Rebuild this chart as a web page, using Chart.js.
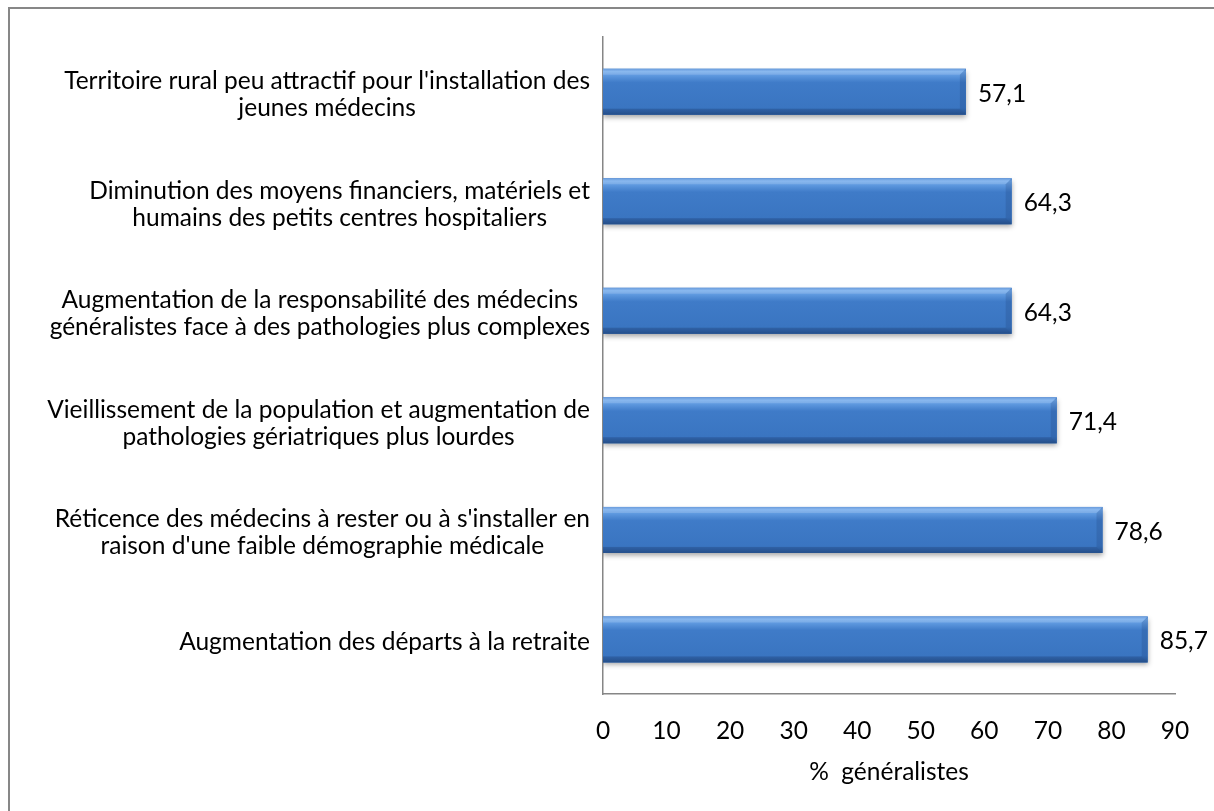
<!DOCTYPE html>
<html>
<head>
<meta charset="utf-8">
<script src="https://cdn.jsdelivr.net/npm/chart.js@4"></script>
<style>
  html, body { margin: 0; padding: 0; background: #fff; }
  #wrap { position: relative; width: 1214px; height: 811px; }
  #frame { position: absolute; left: 8px; top: 7px; width: 1220px; height: 820px;
           border-left: 2px solid #878787; border-top: 2px solid #878787; }
  canvas { position: absolute; left: 0; top: 0; }
</style>
</head>
<body>
<div id="wrap">
  <div id="frame"></div>
  <canvas id="chart" width="1214" height="811"></canvas>
</div>
<script>
// categories (top to bottom) and values
const categories = [
    ["Territoire rural peu attractif pour l'installation des", "jeunes médecins"],
    ["Diminution des moyens financiers, matériels et", "humains des petits centres hospitaliers"],
    ["Augmentation de la responsabilité des médecins", "généralistes face à des pathologies plus complexes"],
    ["Vieillissement de la population et augmentation de", "pathologies gériatriques plus lourdes"],
    ["Réticence des médecins à rester ou à s'installer en", "raison d'une faible démographie médicale"],
    ["Augmentation des départs à la retraite"]
];
const values = [57.1, 64.3, 64.3, 71.4, 78.6, 85.7];
const xTicks = [0, 10, 20, 30, 40, 50, 60, 70, 80, 90];
const axisTitle = '%  généralistes';

const FONT = 'Lato, "Open Sans", sans-serif';
const FSIZE = 24.5;

// Category labels: block right-aligned, lines centered inside it
const labelPlugin = {
    id: 'catLabels',
    afterDraw(chart) {
        const ctx = chart.ctx;
        const yScale = chart.scales.y;
        const right = chart.chartArea.left - 13;
        ctx.save();
        ctx.font = FSIZE + 'px ' + FONT;
        ctx.fillStyle = '#000';
        ctx.textBaseline = 'middle';
        ctx.textAlign = 'center';
        const lh = 27;
        categories.forEach((lines, i) => {
            const y = yScale.getPixelForTick(i) + 3;
            const w = Math.max(...lines.map(l => ctx.measureText(l).width));
            const cx = right - w / 2;
            const y0 = y - (lines.length - 1) * lh / 2;
            lines.forEach((l, j) => ctx.fillText(l, cx, y0 + j * lh));
        });
        ctx.restore();
    }
};

// Bevel look on bars + value labels
const barPlugin = {
    id: 'barStyle',
    beforeDatasetsDraw(chart) {
        const ctx = chart.ctx;
        ctx.save();
        ctx.shadowColor = 'rgba(0,0,0,0.35)';
        ctx.shadowBlur = 5;
        ctx.shadowOffsetY = 3;
    },
    afterDatasetsDraw(chart) {
        const ctx = chart.ctx;
        ctx.restore();
        ctx.save();
        chart.getDatasetMeta(0).data.forEach((el, i) => {
            const top = el.y - el.height / 2, bot = el.y + el.height / 2;
            const x0 = el.base, x1 = el.x, b = 6;
            // body gradient over the bar
            const g = ctx.createLinearGradient(0, top, 0, bot);
            g.addColorStop(0, '#4f8ad6');
            g.addColorStop(0.06, '#75acec');
            g.addColorStop(0.16, '#5b96dd');
            g.addColorStop(0.3, '#3f7bc8');
            g.addColorStop(0.85, '#3a75c1');
            g.addColorStop(1, '#2b5a98');
            ctx.fillStyle = g;
            ctx.fillRect(x0, top, x1 - x0, bot - top);
            // right bevel
            ctx.fillStyle = 'rgba(20,50,100,0.18)';
            ctx.beginPath();
            ctx.moveTo(x1, top); ctx.lineTo(x1 - b, top + b);
            ctx.lineTo(x1 - b, bot - b); ctx.lineTo(x1, bot); ctx.closePath();
            ctx.fill();
            // top bevel
            ctx.fillStyle = 'rgba(255,255,255,0.15)';
            ctx.beginPath();
            ctx.moveTo(x0, top); ctx.lineTo(x1, top);
            ctx.lineTo(x1 - b, top + b); ctx.lineTo(x0, top + b); ctx.closePath();
            ctx.fill();
            // bottom bevel
            ctx.fillStyle = 'rgba(10,30,70,0.18)';
            ctx.beginPath();
            ctx.moveTo(x0, bot); ctx.lineTo(x1, bot);
            ctx.lineTo(x1 - b, bot - b); ctx.lineTo(x0, bot - b); ctx.closePath();
            ctx.fill();
            // value label
            ctx.font = FSIZE + 'px ' + FONT;
            ctx.fillStyle = '#000';
            ctx.textAlign = 'left';
            ctx.textBaseline = 'middle';
            ctx.fillText(values[i].toFixed(1).replace('.', ','), x1 + 12, el.y + 2);
        });
        ctx.restore();
    }
};

new Chart(document.getElementById('chart'), {
    type: 'bar',
    data: {
        labels: categories,
        datasets: [{
            data: values,
            backgroundColor: '#3f7bc8',
            borderWidth: 0,
            barPercentage: 0.42,
            categoryPercentage: 1
        }]
    },
    plugins: [labelPlugin, barPlugin],
    options: {
        indexAxis: 'y',
        responsive: false,
        animation: false,
        layout: { padding: { left: 603, right: 39, top: 37, bottom: 20.6 } },
        plugins: { legend: { display: false }, tooltip: { enabled: false } },
        scales: {
            x: {
                min: 0, max: 90,
                afterBuildTicks: s => { s.ticks = xTicks.map(v => ({ value: v })); },
                grid: { display: false, drawTicks: false },
                border: { display: true, color: '#868686', width: 1.5 },
                ticks: { color: '#000', font: { family: FONT, size: FSIZE }, padding: 22.6 },
                title: { display: true, text: axisTitle, color: '#000',
                         font: { family: FONT, size: FSIZE }, padding: { top: -11.8, bottom: 4 } }
            },
            y: {
                afterFit: s => { s.width = 0; },
                grid: { display: false, drawTicks: false },
                border: { display: true, color: '#868686', width: 1.5 },
                ticks: { display: false }
            }
        }
    }
});
</script>
</body>
</html>
